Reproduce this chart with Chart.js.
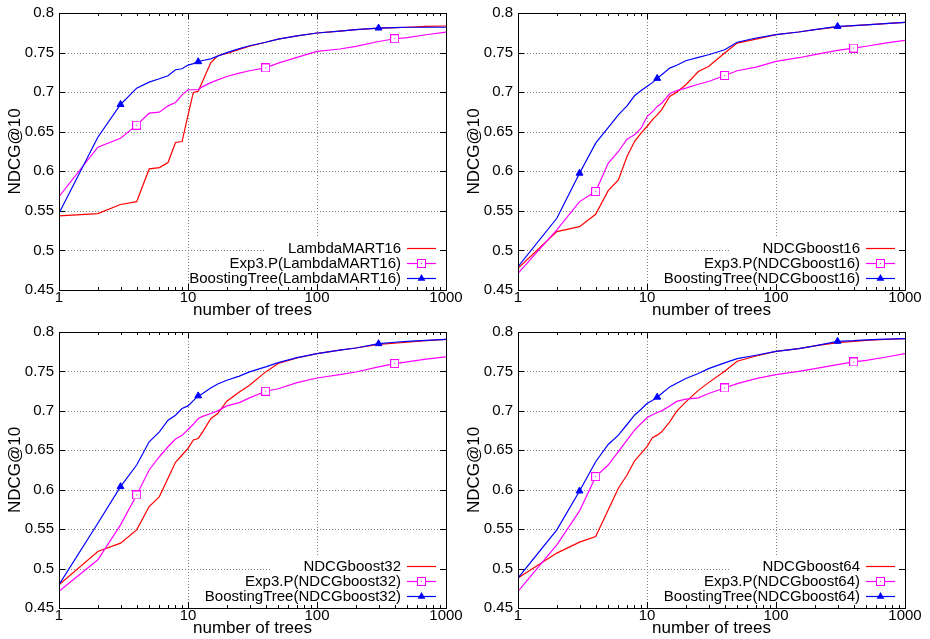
<!DOCTYPE html>
<html>
<head>
<meta charset="utf-8">
<script src="https://cdn.jsdelivr.net/npm/chart.js@4.4.1/dist/chart.umd.min.js"></script>
<style>
  body { margin: 0; background: #fff; }
  .panel { position: absolute; width: 465px; height: 319px; }
</style>
</head>
<body>
<div class="panel" style="left:0;top:0"><canvas id="c0" width="465" height="319"></canvas></div>
<div class="panel" style="left:465px;top:0"><canvas id="c1" width="465" height="319"></canvas></div>
<div class="panel" style="left:0;top:318px"><canvas id="c2" width="465" height="319"></canvas></div>
<div class="panel" style="left:465px;top:318px"><canvas id="c3" width="465" height="319"></canvas></div>
<script>
// number of trees (x, log scale)
const treesX = [1, 2, 3, 4, 5, 6, 7, 8, 9, 10, 11, 12, 13, 15, 17, 20, 25, 30, 40, 50, 70, 100, 150, 200, 300, 400, 500, 700, 1000];
const xTickValues = [1, 10, 100, 1000];
const yTickValues = [0.45, 0.5, 0.55, 0.6, 0.65, 0.7, 0.75, 0.8];
const exp3Marks = [4, 40, 400];
const boostMarks = [3, 12, 300];

// LambdaMART16
const lambda16Base  = [.5436, .5466, .558, .5617, .603, .6047, .611, .6364, .6376, .671, .6996, .701, .714, .737, .746, .749, .754, .758, .763, .767, .771, .7747, .777, .779, .781, .7815, .782, .783, .7836];
const lambda16Exp3  = [.568, .6304, .6418, .6583, .6734, .6747, .6827, .687, .6966, .7030, .7030, .7032, .707, .712, .7155, .7198, .724, .727, .7306, .7367, .744, .7515, .7545, .7578, .764, .7675, .769, .7725, .7759];
const lambda16Boost = [.547, .643, .6844, .705, .7126, .7169, .7207, .7283, .7295, .7342, .736, .7385, .740, .742, .7455, .75, .755, .7586, .763, .767, .771, .7747, .777, .779, .781, .7815, .782, .782, .782];

// NDCGboost16
const ndcg16Base  = [.4774, .5238, .530, .5457, .5756, .589, .6186, .6376, .6481, .6566, .665, .6713, .678, .6945, .700, .7093, .726, .7325, .7494, .762, .767, .7726, .776, .779, .7823, .784, .785, .7865, .7882];
const ndcg16Exp3  = [.4711, .5259, .5617, .5744, .610, .625, .6406, .646, .6545, .6692, .675, .6819, .686, .6979, .702, .705, .710, .7135, .7211, .727, .7317, .7388, .7435, .7473, .7528, .7557, .758, .762, .7654];
const ndcg16Boost = [.4795, .5406, .5976, .6355, .6553, .6713, .6827, .6954, .702, .7072, .712, .7174, .722, .7304, .734, .7397, .744, .7473, .7536, .763, .7684, .7726, .776, .779, .7831, .784, .785, .7865, .7882];

// NDCGboost32
const ndcg32Base  = [.4795, .5217, .5322, .5491, .5786, .5913, .6144, .6347, .644, .6524, .663, .665, .6734, .690, .6966, .7122, .724, .7325, .7494, .760, .767, .7726, .777, .7797, .7844, .786, .787, .789, .7907];
const ndcg32Exp3  = [.4711, .5111, .5554, .5933, .625, .6418, .6545, .6642, .669, .6764, .683, .6903, .693, .6966, .700, .7063, .7105, .7164, .7249, .728, .7358, .7417, .746, .7493, .7557, .760, .762, .7655, .7684];
const ndcg32Boost = [.4795, .5575, .6039, .6313, .6608, .6734, .6882, .6945, .703, .7063, .713, .719, .722, .729, .734, .7388, .744, .7494, .7557, .7612, .7675, .7726, .777, .7797, .7852, .787, .788, .7895, .7907];

// NDCGboost64
const ndcg64Base  = [.488, .5196, .5335, .5406, .5744, .6018, .6186, .6364, .646, .6545, .6659, .6692, .6734, .6861, .6996, .7114, .726, .7358, .7502, .7629, .7696, .7755, .779, .7823, .7865, .788, .7895, .7905, .7916];
const ndcg64Exp3  = [.4711, .530, .5731, .6166, .6313, .6482, .663, .6756, .684, .6912, .695, .6979, .700, .7063, .712, .7148, .7164, .722, .729, .7346, .7409, .746, .750, .7536, .7587, .762, .764, .768, .7726];
const ndcg64Boost = [.488, .5491, .5984, .6355, .6574, .6692, .6827, .6945, .7021, .7093, .713, .7174, .722, .7304, .735, .741, .7473, .7536, .7608, .7662, .7705, .7755, .779, .7823, .7882, .789, .790, .791, .7916];

const FONT = '"Liberation Sans", Arial, sans-serif';
const RED = '#ff0000', MAGENTA = '#ff00ff', BLUE = '#0000ff';

// hollow square with a dot in the middle (gnuplot style)
const squareMark = (() => {
  const c = document.createElement('canvas');
  c.width = 9; c.height = 9;
  const g = c.getContext('2d');
  g.fillStyle = '#fff';
  g.fillRect(0, 0, 9, 9);
  g.strokeStyle = MAGENTA;
  g.lineWidth = 1;
  g.strokeRect(0.5, 0.5, 8, 8);
  g.fillStyle = MAGENTA;
  g.fillRect(4, 4, 1, 1);
  return c;
})();

function drawTriangle(ctx, cx, cy, r, color) {
  ctx.fillStyle = color;
  ctx.beginPath();
  ctx.moveTo(cx, cy - r);
  ctx.lineTo(cx + r * 0.866, cy + r * 0.5);
  ctx.lineTo(cx - r * 0.866, cy + r * 0.5);
  ctx.closePath();
  ctx.fill();
}

const gnuplotFrame = {
  id: 'gnuplotFrame',
  beforeDatasetsDraw(chart) {
    const { ctx, chartArea: a, scales: { x, y } } = chart;
    ctx.save();
    // dotted grid at major ticks
    ctx.strokeStyle = '#808080';
    ctx.lineWidth = 1;
    ctx.setLineDash([1, 2]);
    ctx.beginPath();
    xTickValues.slice(1, -1).forEach(v => {
      const px = Math.round(x.getPixelForValue(v)) + 0.5;
      ctx.moveTo(px, a.top); ctx.lineTo(px, a.bottom);
    });
    yTickValues.slice(1, -1).forEach(v => {
      const py = Math.round(y.getPixelForValue(v)) + 0.5;
      ctx.moveTo(a.left, py); ctx.lineTo(a.right, py);
    });
    ctx.stroke();
    ctx.setLineDash([]);

    // opaque key box
    const labels = chart.data.datasets.map(d => d.label);
    const boxW = 7 * Math.max(...labels.map(l => l.length));
    ctx.fillStyle = '#fff';
    ctx.fillRect(a.right - boxW, a.bottom - 52, boxW, 52);

    // tick marks inside the frame
    ctx.strokeStyle = '#000';
    ctx.beginPath();
    for (let d = 1; d < 1000; d *= 10) {
      for (let k = 1; k < 10; k++) {
        const px = Math.round(x.getPixelForValue(d * k)) + 0.5;
        const len = k === 1 ? 6 : 3;
        ctx.moveTo(px, a.bottom); ctx.lineTo(px, a.bottom - len);
        ctx.moveTo(px, a.top); ctx.lineTo(px, a.top + len);
      }
    }
    yTickValues.forEach(v => {
      const py = Math.round(y.getPixelForValue(v)) + 0.5;
      ctx.moveTo(a.left, py); ctx.lineTo(a.left + 6, py);
      ctx.moveTo(a.right, py); ctx.lineTo(a.right - 6, py);
    });
    ctx.stroke();

    // key
    ctx.font = '15px ' + FONT;
    ctx.textAlign = 'right';
    ctx.textBaseline = 'middle';
    chart.data.datasets.forEach((ds, i) => {
      const ry = Math.round(a.bottom - 42.5 + 15 * i) + 0.5;
      ctx.fillStyle = '#000';
      ctx.fillText(ds.label, a.right - 45, ry);
      ctx.strokeStyle = ds.borderColor;
      ctx.lineWidth = 1.2;
      ctx.beginPath();
      ctx.moveTo(a.right - 39, ry); ctx.lineTo(a.right - 10, ry);
      ctx.stroke();
      const cx = a.right - 24.5;
      if (ds.pointStyle === 'triangle') drawTriangle(ctx, cx, ry, 4.5, ds.borderColor);
      else if (ds.pointStyle && ds.pointStyle !== 'circle') ctx.drawImage(ds.pointStyle, Math.round(cx - 4.5), Math.round(ry - 4.5));
    });
    ctx.restore();
  },
  afterDatasetsDraw(chart) {
    const { ctx, chartArea: a } = chart;
    ctx.save();
    ctx.strokeStyle = '#000';
    ctx.lineWidth = 1;
    ctx.strokeRect(Math.round(a.left) + 0.5, Math.round(a.top) + 0.5, Math.round(a.right - a.left), Math.round(a.bottom - a.top));
    ctx.restore();
  }
};

function makeChart(canvasId, name, base, exp3, boost, geo) {
  const pts = arr => treesX.map((t, i) => ({ x: t, y: arr[i] }));
  new Chart(document.getElementById(canvasId), {
    type: 'line',
    data: {
      datasets: [
        { label: name, data: pts(base), borderColor: RED, pointRadius: 0, order: 2 },
        { label: 'Exp3.P(' + name + ')', data: pts(exp3), borderColor: MAGENTA, backgroundColor: MAGENTA,
          pointStyle: squareMark, pointRadius: c => exp3Marks.includes(c.raw && c.raw.x) ? 5 : 0, order: 1 },
        { label: 'BoostingTree(' + name + ')', data: pts(boost), borderColor: BLUE, backgroundColor: BLUE,
          pointStyle: 'triangle', pointBorderWidth: 1, pointRadius: c => boostMarks.includes(c.raw && c.raw.x) ? 4 : 0, order: 0 }
      ]
    },
    options: {
      responsive: false,
      animation: false,
      events: [],
      devicePixelRatio: 1,
      layout: { padding: { top: geo.top, right: geo.right, left: 0, bottom: 0 } },
      elements: { line: { tension: 0, borderWidth: 1.2, fill: false } },
      plugins: { legend: { display: false }, tooltip: { enabled: false } },
      scales: {
        x: {
          type: 'logarithmic',
          min: 1,
          max: 1000,
          grid: { display: false, drawTicks: false },
          border: { display: false },
          ticks: {
            autoSkip: false,
            maxRotation: 0,
            padding: 0,
            color: '#000',
            font: { family: FONT, size: 15, lineHeight: 1 },
            callback: v => xTickValues.includes(v) ? String(v) : ''
          },
          title: { display: true, text: 'number of trees', color: '#000',
                   font: { family: FONT, size: 17, lineHeight: 1 }, padding: { top: 0, bottom: 0 } },
          afterFit: s => { s.height = 29; }
        },
        y: {
          min: 0.45,
          max: 0.8,
          grid: { display: false, drawTicks: false },
          border: { display: false },
          ticks: {
            stepSize: 0.05,
            padding: 5,
            color: '#000',
            font: { family: FONT, size: 15, lineHeight: 1 },
            callback: v => String(Number(v.toFixed(2)))
          },
          title: { display: true, text: 'NDCG@10', color: '#000',
                   font: { family: FONT, size: 17, lineHeight: 1 }, padding: { top: geo.titlePad, bottom: 0 } },
          afterFit: s => { s.width = geo.yWidth; }
        }
      }
    },
    plugins: [gnuplotFrame]
  });
}

makeChart('c0', 'LambdaMART16', lambda16Base, lambda16Exp3, lambda16Boost, { top: 13, right: 19, yWidth: 59, titlePad: 6.5 });
makeChart('c1', 'NDCGboost16', ndcg16Base, ndcg16Exp3, ndcg16Boost, { top: 13, right: 25, yWidth: 53, titlePad: 0.5 });
makeChart('c2', 'NDCGboost32', ndcg32Base, ndcg32Exp3, ndcg32Boost, { top: 14, right: 19, yWidth: 59, titlePad: 6.5 });
makeChart('c3', 'NDCGboost64', ndcg64Base, ndcg64Exp3, ndcg64Boost, { top: 14, right: 25, yWidth: 53, titlePad: 0.5 });
</script>
</body>
</html>
